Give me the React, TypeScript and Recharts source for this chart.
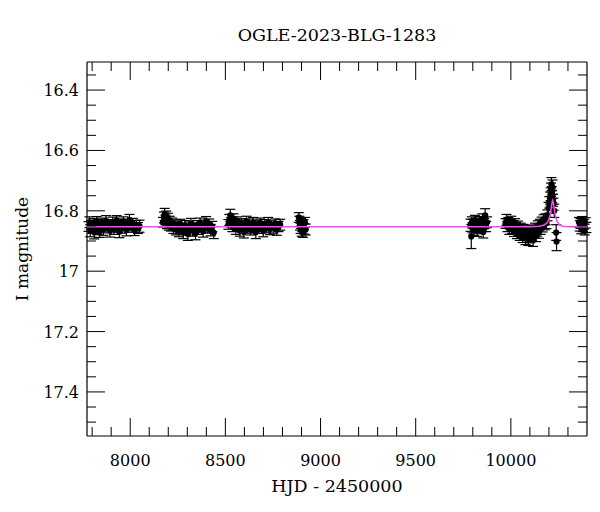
import React from 'react';
import { ComposedChart, Scatter, XAxis, YAxis, ErrorBar } from 'recharts';

type Obs = [number, number, number]; // HJD-2450000, I mag, error

const season2017: Obs[] = [
  [7781, 16.852, 0.016], [7786, 16.838, 0.018], [7790, 16.866, 0.02], [7795, 16.847, 0.015],
  [7800, 16.858, 0.017], [7806, 16.842, 0.016], [7811, 16.871, 0.022], [7817, 16.85, 0.015],
  [7823, 16.836, 0.017], [7828, 16.861, 0.018], [7834, 16.845, 0.016], [7840, 16.868, 0.02],
  [7846, 16.853, 0.015], [7853, 16.84, 0.016], [7859, 16.862, 0.019], [7866, 16.848, 0.015],
  [7873, 16.833, 0.017], [7880, 16.857, 0.016], [7887, 16.844, 0.015], [7894, 16.866, 0.021],
  [7901, 16.851, 0.016], [7908, 16.838, 0.017], [7915, 16.86, 0.018], [7922, 16.846, 0.015],
  [7929, 16.832, 0.016], [7936, 16.855, 0.016], [7943, 16.869, 0.02], [7950, 16.842, 0.015],
  [7957, 16.857, 0.017], [7964, 16.836, 0.016], [7972, 16.85, 0.015], [7980, 16.864, 0.019],
  [7988, 16.845, 0.016], [7996, 16.83, 0.018], [8005, 16.855, 0.016], [8014, 16.842, 0.017],
  [8023, 16.862, 0.02], [8032, 16.848, 0.016], [8041, 16.857, 0.018], [8049, 16.851, 0.02],
];

const season2018: Obs[] = [
  [8172, 16.838, 0.016], [8177, 16.822, 0.018], [8181, 16.812, 0.02], [8185, 16.83, 0.016],
  [8189, 16.818, 0.017], [8193, 16.843, 0.016], [8198, 16.826, 0.018], [8203, 16.848, 0.016],
  [8208, 16.835, 0.017], [8214, 16.852, 0.015], [8220, 16.84, 0.016], [8227, 16.858, 0.017],
  [8234, 16.846, 0.016], [8241, 16.862, 0.018], [8248, 16.85, 0.016], [8256, 16.867, 0.019],
  [8263, 16.844, 0.016], [8271, 16.859, 0.017], [8279, 16.872, 0.02], [8287, 16.848, 0.016],
  [8295, 16.862, 0.018], [8303, 16.877, 0.021], [8311, 16.853, 0.016], [8319, 16.842, 0.017],
  [8327, 16.866, 0.018], [8335, 16.856, 0.016], [8343, 16.874, 0.022], [8351, 16.848, 0.016],
  [8359, 16.861, 0.017], [8367, 16.84, 0.016], [8375, 16.855, 0.016], [8383, 16.868, 0.019],
  [8391, 16.847, 0.016], [8399, 16.836, 0.017], [8407, 16.858, 0.016], [8415, 16.845, 0.018],
  [8423, 16.864, 0.019], [8431, 16.852, 0.017], [8439, 16.872, 0.02],
];

const season2019: Obs[] = [
  [8516, 16.845, 0.016], [8521, 16.83, 0.018], [8526, 16.815, 0.02], [8531, 16.838, 0.016],
  [8537, 16.852, 0.017], [8543, 16.826, 0.016], [8549, 16.844, 0.016], [8555, 16.86, 0.018],
  [8562, 16.836, 0.016], [8569, 16.85, 0.017], [8576, 16.865, 0.019], [8583, 16.842, 0.016],
  [8590, 16.856, 0.016], [8597, 16.87, 0.02], [8604, 16.847, 0.016], [8611, 16.835, 0.017],
  [8618, 16.858, 0.016], [8625, 16.843, 0.016], [8632, 16.862, 0.018], [8639, 16.85, 0.016],
  [8646, 16.839, 0.017], [8653, 16.855, 0.016], [8660, 16.871, 0.021], [8667, 16.846, 0.016],
  [8675, 16.858, 0.017], [8683, 16.84, 0.016], [8691, 16.852, 0.016], [8699, 16.867, 0.019],
  [8707, 16.845, 0.016], [8716, 16.856, 0.017], [8725, 16.838, 0.016], [8734, 16.861, 0.018],
  [8743, 16.849, 0.016], [8752, 16.857, 0.017], [8761, 16.843, 0.016], [8770, 16.862, 0.019],
  [8779, 16.852, 0.017], [8788, 16.846, 0.018],
];

const season2020: Obs[] = [
  [8886, 16.822, 0.016], [8889, 16.835, 0.017], [8892, 16.848, 0.016], [8895, 16.858, 0.017],
  [8898, 16.842, 0.016], [8901, 16.866, 0.018], [8904, 16.853, 0.016], [8907, 16.87, 0.018],
  [8910, 16.845, 0.016], [8914, 16.86, 0.017], [8918, 16.838, 0.016], [8922, 16.862, 0.018],
];

const season2022: Obs[] = [
  [9788, 16.848, 0.02], [9792, 16.885, 0.04], [9795, 16.838, 0.018], [9799, 16.856, 0.017],
  [9803, 16.843, 0.016], [9807, 16.864, 0.018], [9811, 16.832, 0.017], [9815, 16.852, 0.016],
  [9819, 16.845, 0.016], [9823, 16.866, 0.019], [9827, 16.84, 0.016], [9831, 16.855, 0.017],
  [9835, 16.835, 0.016], [9840, 16.858, 0.018], [9845, 16.845, 0.016], [9850, 16.828, 0.018],
  [9855, 16.87, 0.02], [9860, 16.842, 0.017], [9865, 16.815, 0.022], [9870, 16.852, 0.017],
  [9875, 16.838, 0.018],
];

const season2023: Obs[] = [
  [9972, 16.842, 0.016], [9977, 16.83, 0.018], [9982, 16.852, 0.017], [9987, 16.838, 0.016],
  [9992, 16.86, 0.018], [9997, 16.845, 0.016], [10002, 16.835, 0.017], [10007, 16.858, 0.017],
  [10012, 16.848, 0.016], [10017, 16.866, 0.019], [10022, 16.842, 0.016], [10027, 16.856, 0.017],
  [10032, 16.872, 0.02], [10037, 16.85, 0.016], [10042, 16.864, 0.018], [10047, 16.878, 0.02],
  [10052, 16.858, 0.017], [10057, 16.87, 0.018], [10062, 16.884, 0.021], [10067, 16.862, 0.017],
  [10072, 16.876, 0.019], [10077, 16.89, 0.022], [10082, 16.868, 0.018], [10087, 16.88, 0.019],
  [10092, 16.894, 0.021], [10097, 16.872, 0.018], [10102, 16.886, 0.02], [10107, 16.864, 0.017],
  [10112, 16.878, 0.019], [10117, 16.896, 0.022], [10122, 16.87, 0.018], [10127, 16.858, 0.017],
  [10132, 16.882, 0.02], [10137, 16.866, 0.018], [10142, 16.85, 0.017], [10147, 16.872, 0.019],
  [10152, 16.845, 0.017], [10157, 16.86, 0.018], [10162, 16.838, 0.017], [10167, 16.852, 0.018],
  [10172, 16.83, 0.017], [10177, 16.845, 0.018], [10182, 16.828, 0.018], [10187, 16.84, 0.019],
  [10192, 16.815, 0.018],
  // the bump
  [10198, 16.79, 0.018], [10202, 16.772, 0.019], [10206, 16.758, 0.02], [10209, 16.745, 0.021],
  [10211, 16.73, 0.022], [10213, 16.712, 0.022], [10215, 16.74, 0.02], [10217, 16.752, 0.02],
  [10219, 16.722, 0.024], [10221, 16.765, 0.02], [10224, 16.778, 0.02], [10228, 16.8, 0.022],
  [10238, 16.872, 0.026], [10240, 16.902, 0.03],
];

const season2024: Obs[] = [
  [10358, 16.838, 0.016], [10362, 16.85, 0.017], [10366, 16.842, 0.016], [10370, 16.858, 0.018],
  [10374, 16.835, 0.016], [10378, 16.852, 0.017], [10383, 16.845, 0.016], [10388, 16.862, 0.018],
  [10393, 16.84, 0.017], [10397, 16.855, 0.017],
];

// model curve
const modelHjd = [7773, 10100, 10150, 10175, 10190, 10200, 10207, 10212, 10216, 10219, 10222, 10226, 10231, 10237, 10245, 10255, 10270, 10300, 10400];
const modelMag = [16.853, 16.853, 16.851, 16.847, 16.84, 16.828, 16.812, 16.792, 16.774, 16.766, 16.77, 16.785, 16.806, 16.825, 16.838, 16.846, 16.851, 16.853, 16.853];

const xMajor = [8000, 8500, 9000, 9500, 10000];
const yMajor = [16.4, 16.6, 16.8, 17, 17.2, 17.4];

const xDomain = [7773, 10400];
const yDomain = [16.307, 17.546];

const xTicks: number[] = [];
for (let v = 7800; v < 10400; v += 100) xTicks.push(v);
const yTicks: number[] = [];
for (let i = 0; i <= 23; i++) yTicks.push(Math.round((16.35 + i * 0.05) * 100) / 100);

const FONT = '"DejaVu Serif", serif';
const MAJ = 18;
const MIN = 9;

const obs = [...season2017, ...season2018, ...season2019, ...season2020, ...season2022, ...season2023, ...season2024]
  .map(([t, m, e]) => ({ t, m, e }));
const model = modelHjd.map((t, i) => ({ t, m: modelMag[i] }));

const isMajorY = (v: number) => yMajor.some((m) => Math.abs(m - v) < 1e-6);

const BottomTick = (p: any) => {
  const v = p.payload.value;
  const major = xMajor.includes(v);
  return (
    <g>
      <line x1={p.x} x2={p.x} y1={p.y} y2={p.y - (major ? MAJ : MIN)} stroke="#000" />
      {major && (
        <text x={p.x} y={p.y + 30} textAnchor="middle" fontSize={16} fontFamily={FONT} fill="#000">{v}</text>
      )}
    </g>
  );
};

const TopTick = (p: any) => {
  const major = xMajor.includes(p.payload.value);
  return <line x1={p.x} x2={p.x} y1={p.y} y2={p.y + (major ? MAJ : MIN)} stroke="#000" />;
};

const LeftTick = (p: any) => {
  const v = p.payload.value;
  const major = isMajorY(v);
  return (
    <g>
      <line x1={p.x} x2={p.x + (major ? MAJ : MIN)} y1={p.y} y2={p.y} stroke="#000" />
      {major && (
        <text x={p.x - 8} y={p.y + 6} textAnchor="end" fontSize={16} fontFamily={FONT} fill="#000">{String(v)}</text>
      )}
    </g>
  );
};

const RightTick = (p: any) => {
  const major = isMajorY(p.payload.value);
  return <line x1={p.x} x2={p.x - (major ? MAJ : MIN)} y1={p.y} y2={p.y} stroke="#000" />;
};

const Dot = (p: any) => <circle cx={p.cx} cy={p.cy} r={3.1} fill="#000" />;
const NoDot = () => <g />;

export default function App() {
  return (
    <div style={{ position: 'absolute', left: 0, top: 0, width: 600, height: 512, background: '#fff' }}>
      <ComposedChart width={600} height={512} margin={{ top: 0, right: 0, bottom: 0, left: 0 }}>
        <XAxis xAxisId="b" orientation="bottom" type="number" dataKey="t" domain={xDomain} allowDataOverflow
          ticks={xTicks} interval={0} height={76} tickSize={0} tickMargin={0} tickLine={false}
          axisLine={{ stroke: '#000', strokeWidth: 1.2 }} tick={BottomTick} />
        <XAxis xAxisId="t" orientation="top" type="number" dataKey="t" domain={xDomain} allowDataOverflow
          ticks={xTicks} interval={0} height={62} tickSize={0} tickMargin={0} tickLine={false}
          axisLine={{ stroke: '#000', strokeWidth: 1.2 }} tick={TopTick} />
        <YAxis yAxisId="l" orientation="left" type="number" dataKey="m" domain={yDomain} allowDataOverflow reversed
          ticks={yTicks} interval={0} width={87} tickSize={0} tickMargin={0} tickLine={false}
          axisLine={{ stroke: '#000', strokeWidth: 1.2 }} tick={LeftTick} />
        <YAxis yAxisId="r" orientation="right" type="number" dataKey="m" domain={yDomain} allowDataOverflow reversed
          ticks={yTicks} interval={0} width={13} tickSize={0} tickMargin={0} tickLine={false}
          axisLine={{ stroke: '#000', strokeWidth: 1.2 }} tick={RightTick} />
        <Scatter xAxisId="b" yAxisId="l" data={obs} dataKey="m" shape={Dot} isAnimationActive={false}>
          <ErrorBar dataKey="e" direction="y" width={5} stroke="#000" strokeWidth={1.2} isAnimationActive={false} />
        </Scatter>
        <Scatter xAxisId="t" yAxisId="r" data={model} dataKey="m" shape={NoDot} isAnimationActive={false}
          line={{ stroke: '#ff44ff', strokeWidth: 1.5 }} lineType="joint" />
      </ComposedChart>
      <svg width={600} height={512} style={{ position: 'absolute', left: 0, top: 0, pointerEvents: 'none' }}>
        <text x={337} y={41} textAnchor="middle" fontSize={17.5} fontFamily={FONT} fill="#000">OGLE-2023-BLG-1283</text>
        <text x={337} y={492} textAnchor="middle" fontSize={17.5} fontFamily={FONT} fill="#000">HJD - 2450000</text>
        <text transform="translate(28,249) rotate(-90)" textAnchor="middle" fontSize={17} fontFamily={FONT} fill="#000">I magnitude</text>
      </svg>
    </div>
  );
}
